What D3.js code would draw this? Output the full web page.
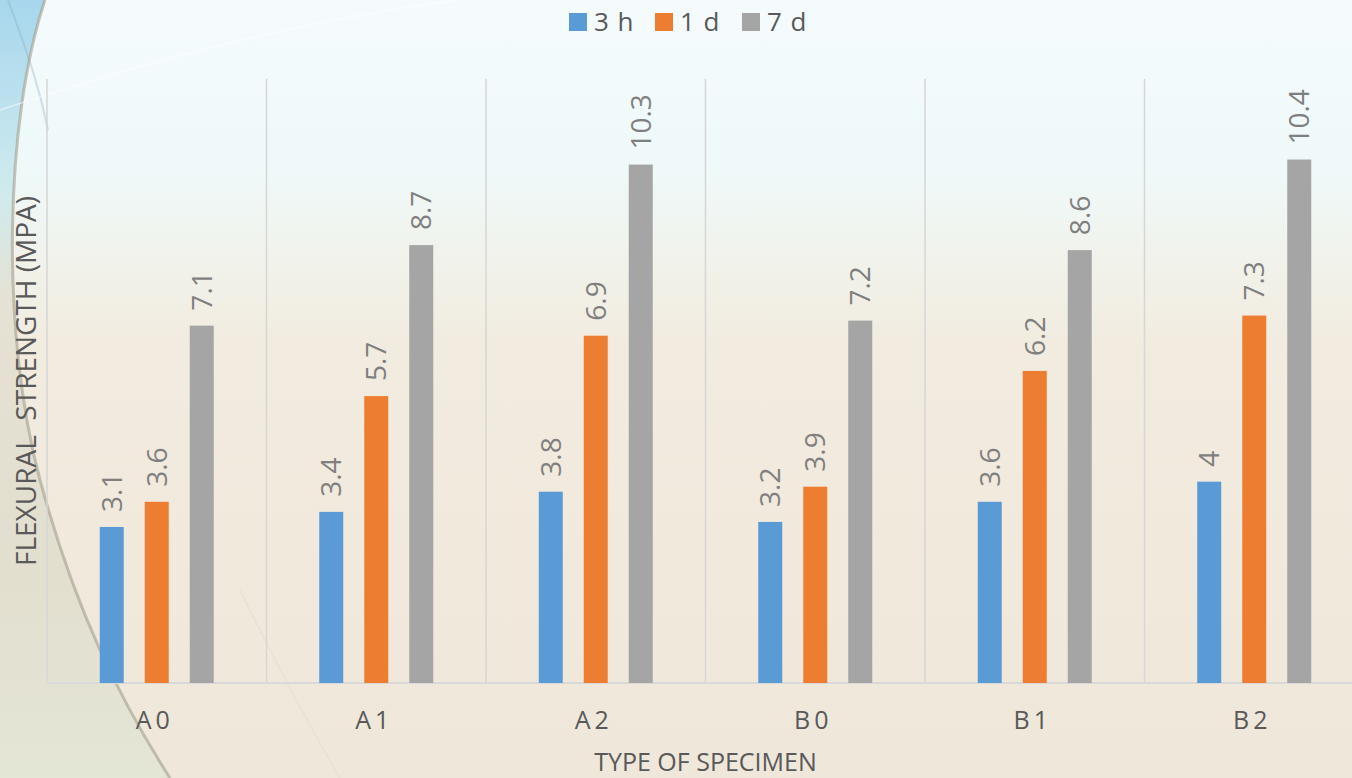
<!DOCTYPE html>
<html>
<head>
<meta charset="utf-8">
<script src="https://cdn.jsdelivr.net/npm/d3@7"></script>
<style>
  html, body { margin: 0; padding: 0; background: #f1ede3; }
  svg { display: block; }
</style>
</head>
<body>
<svg id="vis" width="1352" height="778"></svg>
<script>
const categories = ['A0', 'A1', 'A2', 'B0', 'B1', 'B2'];
const seriesNames = ['3 h', '1 d', '7 d'];
const values3h = [3.1, 3.4, 3.8, 3.2, 3.6, 4];
const values1d = [3.6, 5.7, 6.9, 3.9, 6.2, 7.3];
const values7d = [7.1, 8.7, 10.3, 7.2, 8.6, 10.4];
const seriesColors = ['#5b9bd5', '#ed7d31', '#a5a5a5'];

const width = 1352, height = 778;
const plot = { left: 47, right: 1364, top: 79, bottom: 683 };

const svg = d3.select('#vis');
const defs = svg.append('defs');

// background: pale cyan on top, beige below
const bg = defs.append('linearGradient').attr('id', 'bg')
  .attr('x1', 0).attr('y1', 0).attr('x2', 0).attr('y2', 1);
bg.append('stop').attr('offset', '0%').attr('stop-color', '#f5fbfd');
bg.append('stop').attr('offset', '22%').attr('stop-color', '#eff9f9');
bg.append('stop').attr('offset', '34%').attr('stop-color', '#f1f2ea');
bg.append('stop').attr('offset', '45%').attr('stop-color', '#f2ebdf');
bg.append('stop').attr('offset', '100%').attr('stop-color', '#efe7da');

const side = defs.append('linearGradient').attr('id', 'side')
  .attr('x1', 0).attr('y1', 0).attr('x2', 0).attr('y2', 1);
side.append('stop').attr('offset', '0%').attr('stop-color', '#86c7e6');
side.append('stop').attr('offset', '25%').attr('stop-color', '#c3e5ea');
side.append('stop').attr('offset', '38%').attr('stop-color', '#e0dccd');
side.append('stop').attr('offset', '75%').attr('stop-color', '#dddbca');
side.append('stop').attr('offset', '100%').attr('stop-color', '#dfe5d4');

svg.append('rect').attr('width', width).attr('height', height).attr('fill', 'url(#bg)');

const sweep = 'M45,0 C5,120 0,330 40,480 C75,610 120,700 170,778';
svg.append('path')
  .attr('d', sweep + ' L0,778 L0,0 Z')
  .attr('fill', 'url(#side)')
  .attr('opacity', 0.7);
svg.append('path').attr('d', sweep)
  .attr('fill', 'none').attr('stroke', '#a19e8e').attr('stroke-width', 3).attr('opacity', 0.6);
svg.append('path').attr('d', 'M8,0 C30,60 40,90 48,130')
  .attr('fill', 'none').attr('stroke', '#8aa9b6').attr('stroke-width', 2).attr('opacity', 0.35);
svg.append('path').attr('d', 'M0,110 C150,60 300,20 460,0')
  .attr('fill', 'none').attr('stroke', '#ffffff').attr('stroke-width', 1.5).attr('opacity', 0.5);
svg.append('path').attr('d', 'M240,590 C270,650 300,710 340,778')
  .attr('fill', 'none').attr('stroke', '#e6dfd2').attr('stroke-width', 2).attr('opacity', 0.6);

// scales
const x0 = d3.scaleBand().domain(categories).range([plot.left, plot.right]);
const x1 = d3.scaleBand().domain(seriesNames).range([-57, 57]).paddingInner(0.4667);
const y = d3.scaleLinear().domain([0, 12]).range([plot.bottom, plot.top]);

const rows = categories.map((c, i) => ({
  cat: c,
  vals: [values3h[i], values1d[i], values7d[i]]
}));

// vertical gridlines at category boundaries
const bounds = categories.map(c => x0(c)).concat([x0(categories[categories.length - 1]) + x0.bandwidth()]);
svg.append('g').selectAll('line').data(bounds).join('line')
  .attr('x1', d => d).attr('x2', d => d)
  .attr('y1', plot.top).attr('y2', plot.bottom)
  .attr('stroke', '#d6d6d6').attr('stroke-width', 1.5);

// baseline axis
svg.append('line')
  .attr('x1', plot.left).attr('x2', plot.right)
  .attr('y1', plot.bottom).attr('y2', plot.bottom)
  .attr('stroke', '#d9d9d9').attr('stroke-width', 2);

// bars
const groups = svg.append('g').selectAll('g').data(rows).join('g')
  .attr('transform', d => `translate(${x0(d.cat) + x0.bandwidth() / 2},0)`);

groups.selectAll('rect')
  .data(d => d.vals.map((v, j) => ({ name: seriesNames[j], v, j })))
  .join('rect')
  .attr('x', d => x1(d.name))
  .attr('width', x1.bandwidth())
  .attr('y', d => y(d.v))
  .attr('height', d => plot.bottom - y(d.v))
  .attr('fill', d => seriesColors[d.j]);

// data labels (rotated)
groups.selectAll('text')
  .data(d => d.vals.map((v, j) => ({ name: seriesNames[j], v, j })))
  .join('text')
  .attr('transform', d => `translate(${x1(d.name) + x1.bandwidth() / 2},${y(d.v) - 15}) rotate(-90)`)
  .attr('dy', '0.36em')
  .attr('text-anchor', 'start')
  .attr('font-family', '"Open Sans", sans-serif')
  .attr('font-size', 28)
  .attr('fill', '#7f7f7f')
  .text(d => d.v);

// category labels
svg.append('g').selectAll('text').data(categories).join('text')
  .attr('x', d => x0(d) + x0.bandwidth() / 2 - 2)
  .attr('y', 729)
  .attr('text-anchor', 'middle')
  .attr('font-family', '"Open Sans", sans-serif')
  .attr('font-size', 25)
  .attr('letter-spacing', 4)
  .attr('fill', '#595959')
  .text(d => d);

// axis titles
svg.append('text')
  .attr('x', (plot.left + plot.right) / 2)
  .attr('y', 771)
  .attr('text-anchor', 'middle')
  .attr('font-family', '"Open Sans", sans-serif')
  .attr('font-size', 25)
  .attr('fill', '#595959')
  .text('TYPE OF SPECIMEN');

svg.append('text')
  .attr('transform', `translate(36,${(plot.top + plot.bottom) / 2}) rotate(-90)`)
  .attr('text-anchor', 'middle')
  .attr('font-family', '"Open Sans", sans-serif')
  .attr('font-size', 28)
  .attr('fill', '#595959')
  .attr('xml:space', 'preserve')
  .text('FLEXURAL  STRENGTH (MPA)');

// legend
const legendX = [569, 655, 742];
const legend = svg.append('g').selectAll('g').data(seriesNames).join('g')
  .attr('transform', (d, i) => `translate(${legendX[i]},13)`);
legend.append('rect').attr('width', 18).attr('height', 18).attr('fill', (d, i) => seriesColors[i]);
legend.append('text')
  .attr('x', 25).attr('y', 18)
  .attr('font-family', '"Open Sans", sans-serif')
  .attr('font-size', 26)
  .attr('letter-spacing', 1)
  .attr('fill', '#595959')
  .text(d => d);
</script>
</body>
</html>
